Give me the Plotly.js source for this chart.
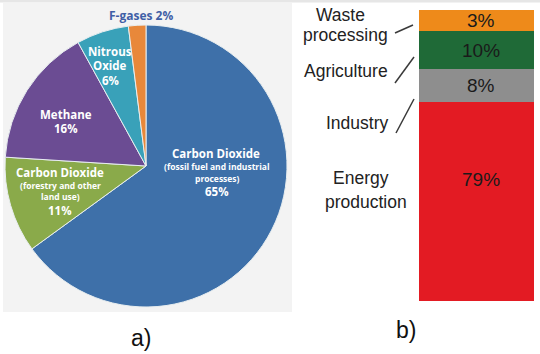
<!DOCTYPE html>
<html><head><meta charset="utf-8">
<script src="https://cdn.plot.ly/plotly-3.0.1.min.js"></script>
<style>html,body{margin:0;padding:0;background:#fff}#chart{width:540px;height:354px}</style>
</head><body><div id="chart"></div>
<script>
// ---- data: panel a) greenhouse gases ----
const gasNames = ["Carbon Dioxide (fossil fuel and industrial processes)", "Carbon Dioxide (forestry and other land use)", "Methane", "Nitrous Oxide", "F-gases"];
const gasShares = [65, 11, 16, 6, 2];
// ---- data: panel b) sectors (bottom to top) ----
const sectorNames = ["Energy production", "Industry", "Agriculture", "Waste processing"];
const sectorLabels = ["79%", "8%", "10%", "3%"];
// share of the bar as drawn in the reference (segments are not drawn to scale with their labels)
const sectorDrawnShare = [68.4, 11.3, 13.1, 7.2];

const gasColors = ["#3e70a9", "#8aaa4a", "#6b4c93", "#39a1b9", "#e8883a"];
const sectorColors = ["#e31b23", "#8e8e8e", "#1f6a37", "#ee8a1a"];

const W = 540, H = 354;
const px = x => x / W, py = y => 1 - y / H;

const traces = [{
  type: "pie", values: gasShares, labels: gasNames, sort: false, direction: "clockwise", rotation: 0,
  marker: {colors: gasColors, line: {color: "#e8eef0", width: 1}},
  textinfo: "none", hoverinfo: "label+percent", showlegend: false,
  domain: {x: [px(5), px(287)], y: [py(307), py(25)]}
}];
sectorNames.forEach((n, i) => traces.push({
  type: "bar", x: [0], y: [sectorDrawnShare[i]], name: n, marker: {color: sectorColors[i], line: {width: 0}},
  width: 1, showlegend: false, hoverinfo: "name"
}));

const white = "#ffffff", gf = "Open Sans, DejaVu Sans, sans-serif";
const ann = [];
function pieText(t, x, y, size, color) {
  ann.push({text: "<b>" + t + "</b>", x: px(x), y: py(y), xref: "paper", yref: "paper", showarrow: false,
    xanchor: "center", yanchor: "middle", borderpad: 0, font: {family: gf, size: size, color: color || white}});
}
pieText("F-gases " + gasShares[4] + "%", 141, 15, 12, "#3f5fa6");
pieText("Nitrous", 110, 52, 11.5); pieText("Oxide", 110, 66, 11.5); pieText(gasShares[3] + "%", 110, 80, 11.5);
pieText("Methane", 66, 114, 11.5); pieText(gasShares[2] + "%", 66, 129, 11.5);
pieText("Carbon Dioxide", 216, 153.5, 11.5); pieText("(fossil fuel and industrial", 217, 167, 8.5);
pieText("processes)", 217, 178, 8.5); pieText(gasShares[0] + "%", 217, 191, 11.5);
pieText("Carbon Dioxide", 60, 172.5, 11.5); pieText("(forestry and other", 60, 185, 8.5);
pieText("land use)", 60, 196, 8.5); pieText(gasShares[1] + "%", 60, 210, 11.5);

const lf = "Liberation Sans, Arial, sans-serif";
function sideText(t, x, y, anchor) {
  ann.push({text: t, x: px(x), y: py(y), xref: "paper", yref: "paper", showarrow: false,
    xanchor: anchor, yanchor: "middle", borderpad: 0, font: {family: lf, size: 17.5, color: "#222"}});
}
sideText("Waste", 340, 15, "center"); sideText("processing", 389, 35, "right");
sideText("Agriculture", 389, 71, "right"); sideText("Industry", 390, 123, "right");
sideText("Energy", 361, 178, "center"); sideText("production", 366, 202, "center");

let base = 0;
sectorDrawnShare.forEach((h, i) => {
  const yc = i === 0 ? base + h * 0.61 : base + h / 2;
  ann.push({text: sectorLabels[i], x: 0.04, y: yc, xref: "x", yref: "y", showarrow: false,
    xanchor: "center", yanchor: "middle", borderpad: 0, font: {family: lf, size: 19, color: "#1a1a1a"}});
  base += h;
});

ann.push({text: "a)", x: px(141), y: py(338), xref: "paper", yref: "paper", showarrow: false,
  xanchor: "center", yanchor: "middle", font: {family: lf, size: 23, color: "#111"}});
ann.push({text: "b)", x: px(406), y: py(330), xref: "paper", yref: "paper", showarrow: false,
  xanchor: "center", yanchor: "middle", font: {family: lf, size: 23, color: "#111"}});

const shapes = [
  {type: "rect", xref: "paper", yref: "paper", x0: 0, x1: 1, y0: py(2.5), y1: 1, fillcolor: "#e6e6e6", line: {width: 0}, layer: "below"},
  {type: "rect", xref: "paper", yref: "paper", x0: px(3), x1: px(292), y0: py(312), y1: py(3), fillcolor: "#f3f3f3", line: {width: 0}, layer: "below"}
];
[[395, 33, 413, 25], [395, 83, 414, 57], [396, 133, 414, 99]].forEach(s => shapes.push({
  type: "line", xref: "paper", yref: "paper", x0: px(s[0]), y0: py(s[1]), x1: px(s[2]), y1: py(s[3]),
  line: {color: "#3a3a3a", width: 1.5}
}));

const layout = {
  width: W, height: H, margin: {l: 0, r: 0, t: 0, b: 0}, paper_bgcolor: "#ffffff", plot_bgcolor: "rgba(0,0,0,0)",
  barmode: "stack", bargap: 0,
  xaxis: {domain: [px(419), px(534)], range: [-0.5, 0.5], visible: false, fixedrange: true},
  yaxis: {domain: [py(301), py(10)], range: [0, 100], visible: false, fixedrange: true},
  annotations: ann, shapes: shapes
};
Plotly.newPlot("chart", traces, layout, {displayModeBar: false, staticPlot: true});
</script></body></html>
